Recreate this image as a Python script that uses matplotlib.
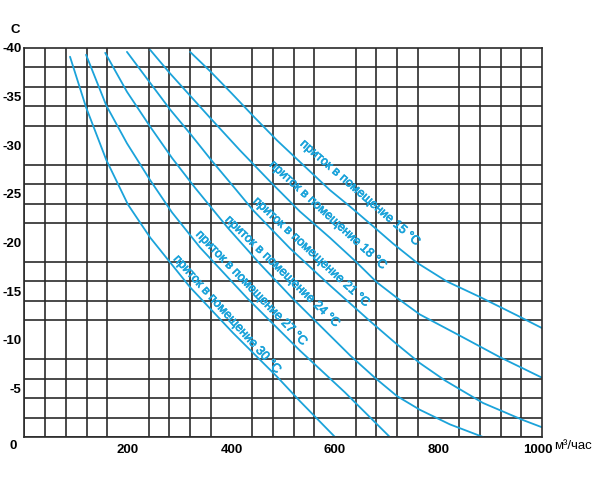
import numpy as np
import matplotlib
matplotlib.use("Agg")
import matplotlib.pyplot as plt
import matplotlib.patheffects as pe
from matplotlib.transforms import ScaledTranslation

# ---- data (flow m3/h vs outdoor temperature °C) ----
x_30 = [88, 119, 158, 200, 243, 320, 403, 488, 532, 600]
y_30 = [-39.1, -33.9, -28.5, -23.9, -20.5, -15.4, -10.7, -6.2, -3.7, 0]

x_27 = [119, 158, 198, 243, 285, 339, 430, 532, 619, 706]
y_27 = [-39.3, -34.1, -30.2, -26.4, -23.1, -19.5, -14.3, -8.9, -4.6, 0]

x_24 = [156, 198, 243, 285, 330, 393, 455, 519, 629, 677, 720, 764, 822, 886]
y_24 = [-39.5, -35.5, -31.9, -28.7, -25.6, -21.5, -17.8, -14.2, -8.4, -6.1, -4.2, -2.8, -1.3, 0]

x_21 = [198, 243, 281, 320, 362, 403, 442, 513, 590, 668, 716, 764, 813, 886, 963, 1000]
y_21 = [-39.6, -36.4, -33.7, -31.2, -28.4, -25.8, -23.3, -19.4, -15.6, -11.9, -9.7, -7.6, -5.8, -3.5, -1.75, -1.0]

x_18 = [243, 281, 320, 359, 416, 474, 532, 590, 639, 681, 720, 764, 842, 919, 1000]
y_18 = [-39.8, -37.4, -35.1, -32.8, -29.5, -26.3, -23.2, -20.5, -18.1, -15.9, -14.3, -12.6, -10.4, -8.2, -6.1]

x_15 = [320, 359, 401, 442, 488, 538, 590, 629, 673, 712, 759, 816, 880, 952, 1000]
y_15 = [-39.6, -37.6, -35.3, -33.0, -30.5, -28.0, -25.4, -23.7, -21.7, -19.9, -17.9, -16.0, -14.4, -12.5, -11.2]

curve_labels = ["приток в помещение 15 °C", "приток в помещение 18 °C",
                "приток в помещение 21 °C", "приток в помещение 24 °C",
                "приток в помещение 27 °C", "приток в помещение 30 °C"]

x_ticks = [200, 400, 600, 800, 1000]
x_ticklabels = ["200", "400", "600", "800", "1000"]
y_ticks = [-40, -35, -30, -25, -20, -15, -10, -5]
y_ticklabels = ["-40", "-35", "-30", "-25", "-20", "-15", "-10", "-5"]

# ---- drawing ----
plt.rcParams['font.family'] = ['Liberation Sans', 'DejaVu Sans']
fig = plt.figure(figsize=(6.0, 5.03), dpi=100)
ax = fig.add_axes([0.0408, 0.1312, 0.8625, 0.7734])

ax.set_xlim(0, 1000)
ax.set_ylim(0, -40)

ax.set_xticks(np.arange(0, 1001, 40), minor=True)
ax.set_yticks(np.arange(-40, 1, 2), minor=True)
ax.grid(which='minor', color='#2b2b2b', lw=1.2)
ax.set_axisbelow(True)

ax.set_xticks(x_ticks)
ax.set_xticklabels(x_ticklabels, fontsize=9.5, fontweight='bold')
ax.set_yticks(y_ticks)
ax.set_yticklabels(y_ticklabels, fontsize=9.5, fontweight='bold')
ax.tick_params(which='both', length=0)
ax.tick_params(axis='x', pad=5)
ax.tick_params(axis='y', pad=2)
for s in ax.spines.values():
    s.set_color('#2b2b2b')
    s.set_linewidth(1.2)

last = ax.get_xticklabels()[-1]
last.set_transform(last.get_transform() + ScaledTranslation(-4 / 100, 0, fig.dpi_scale_trans))

blue = '#1ba3da'
series = [(x_15, y_15), (x_18, y_18), (x_21, y_21), (x_24, y_24), (x_27, y_27), (x_30, y_30)]
for xs, ys in series:
    ax.plot(xs, ys, color=blue, lw=1.3, solid_joinstyle='round', solid_capstyle='round')

label_pos = [(648, -25.1, -41), (586, -22.8, -42.5), (554, -19.0, -43),
             (498, -17.0, -44), (438, -15.3, -46), (391, -12.6, -48)]
for lab, (lx, ly, rot) in zip(curve_labels, label_pos):
    ax.text(lx, ly, lab, color=blue, fontsize=9, rotation=rot,
            rotation_mode='anchor', ha='center', va='center',
            path_effects=[pe.withStroke(linewidth=0.5, foreground=blue)])

# corner / unit labels
fig.text(13 / 600, 1 - 446 / 503, "0", fontsize=9.5, fontweight='bold',
         ha='center', va='center')
fig.text(15 / 600, 1 - 30 / 503, "C", fontsize=9.5, fontweight='bold',
         ha='center', va='center')
fig.text(554 / 600, 1 - 446 / 503, "м³/час", fontsize=9.5, ha='left', va='center')

fig.savefig("out.png", dpi=100)
